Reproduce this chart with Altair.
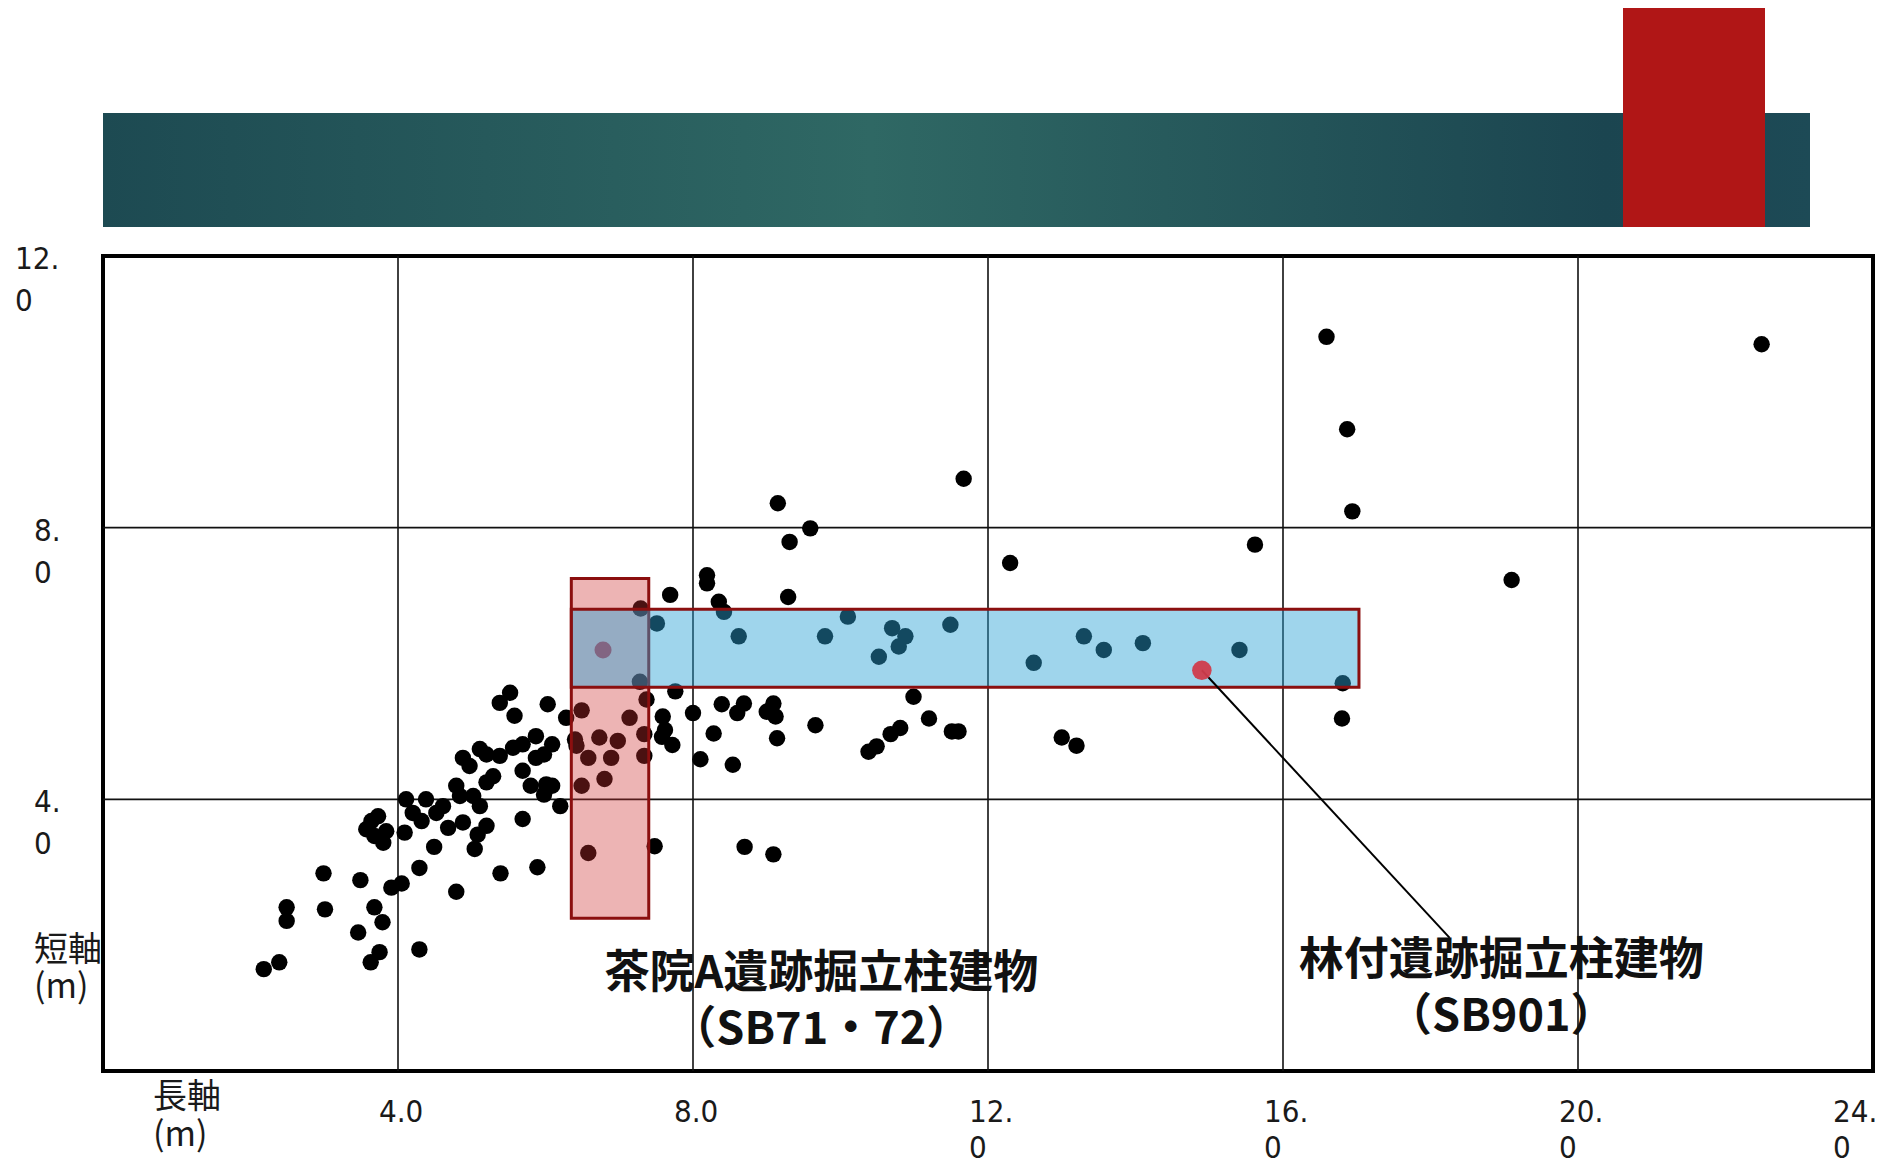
import altair as alt
import pandas as pd

# ---- data (long axis / short axis of pillar buildings, metres) ----
long_axis = [
    2.18, 2.39, 2.49, 2.49, 2.99, 3.01, 3.49, 3.46, 3.68, 3.79, 3.63, 3.75, 3.91, 4.05, 4.29, 4.29,
    4.79, 4.49, 5.39, 5.89, 5.69, 5.04, 3.64, 3.73, 3.57, 3.68, 3.80, 3.84, 4.09, 4.11, 4.20, 4.38,
    4.32, 4.52, 4.61, 4.68, 4.88, 4.79, 4.84, 5.02, 5.11, 5.20, 5.08, 4.88, 4.97, 5.11, 5.20, 5.38,
    5.20, 5.29, 5.56, 5.69, 5.87, 5.87, 5.98, 6.09, 5.69, 5.80, 6.01, 6.09, 5.98, 6.20, 5.38, 5.52,
    5.58, 6.03, 6.28, 6.49, 6.40, 6.42, 6.73, 6.98, 6.58, 6.89, 6.80, 6.49, 7.14, 7.34, 7.34, 7.37,
    6.58, 7.28, 7.48,
    7.29, 7.51, 7.69, 8.19, 8.19, 8.35, 8.42, 8.62, 9.15, 9.59, 9.31, 9.29, 9.79, 10.10, 10.70, 10.88,
    10.79, 10.52, 11.49, 11.67, 7.76, 7.59, 7.62, 7.72, 7.58, 8.00, 8.10, 8.39, 8.69, 8.60, 8.28, 8.54,
    9.09, 9.00, 9.12, 9.14, 9.66, 10.99, 11.20, 10.81, 10.68, 10.49, 10.38, 11.51, 11.60, 8.70, 9.09,
    12.30, 15.62, 16.94, 12.62, 13.30, 13.57, 14.10, 15.41, 16.81, 16.80, 13.00, 13.20,
    16.59, 16.87, 22.49, 19.10,
]
short_axis = [
    1.50, 1.60, 2.41, 2.21, 2.91, 2.38, 2.81, 2.04, 2.41, 2.19, 1.60, 1.75, 2.70, 2.76, 2.99, 1.79,
    2.64, 3.30, 2.91, 3.00, 3.71, 3.27, 3.68, 3.75, 3.56, 3.46, 3.36, 3.53, 3.51, 4.00, 3.80, 4.00,
    3.68, 3.80, 3.90, 3.58, 3.66, 4.20, 4.05, 4.05, 3.90, 3.61, 3.48, 4.61, 4.49, 4.74, 4.66, 4.64,
    4.25, 4.34, 4.76, 4.81, 4.93, 4.61, 4.66, 4.81, 4.42, 4.20, 4.22, 4.20, 4.07, 3.90, 5.42, 5.57,
    5.23, 5.40, 5.20, 5.31, 4.88, 4.79, 4.91, 4.86, 4.61, 4.61, 4.30, 4.20, 5.20, 4.96, 4.64, 5.47,
    3.21, 5.73, 3.31,
    6.81, 6.59, 7.01, 7.30, 7.18, 6.91, 6.76, 6.40, 8.36, 7.99, 7.79, 6.98, 6.40, 6.69, 6.52, 6.40,
    6.25, 6.10, 6.57, 8.72, 5.59, 5.22, 5.02, 4.80, 4.92, 5.27, 4.59, 5.40, 5.41, 5.27, 4.97, 4.51,
    5.41, 5.29, 5.22, 4.90, 5.09, 5.51, 5.19, 5.05, 4.96, 4.78, 4.70, 5.00, 5.00, 3.30, 3.19,
    7.48, 7.75, 8.24, 6.01, 6.40, 6.20, 6.30, 6.20, 5.71, 5.19, 4.91, 4.79,
    10.81, 9.45, 10.70, 7.23,
]

x_ticks = [4, 8, 12, 16, 20, 24]
x_tick_labels = ["4.0", "8.0", "12.\n0", "16.\n0", "20.\n0", "24.\n0"]
y_ticks = [4, 8, 12]
y_tick_labels = ["4.\n0", "8.\n0", "12.\n0"]
grid_x = [4, 8, 12, 16, 20]
grid_y = [4, 8]

# ranges highlighted by the two boxes
chain_box_x = [6.35, 7.40]
chain_box_y = [2.25, 7.25]
hayashi_box_x = [6.35, 17.03]
hayashi_box_y = [5.65, 6.80]

sb71_point = [6.78, 6.20]
sb901_point = [14.90, 5.90]
leader_end = [18.26, 1.96]

annot_text = ["茶院A遺跡掘立柱建物", "（SB71・72）", "林付遺跡掘立柱建物", "（SB901）"]
annot_x = [9.74, 9.74, 18.96, 18.96]
annot_y = [1.43, 0.61, 1.62, 0.80]

# ---- chart ----
W, H = 1770, 815
xs = alt.Scale(domain=[0, 24], nice=False, zero=False)
ys = alt.Scale(domain=[0, 12], nice=False, zero=False)


def X(f):
    return alt.X(f, type="quantitative", scale=xs, axis=None)


def Y(f):
    return alt.Y(f, type="quantitative", scale=ys, axis=None)


one = pd.DataFrame({"k": [0]})
digit_font = "Liberation Sans Narrow, DejaVu Sans Condensed, Liberation Sans, sans-serif"

grid_v = alt.Chart(pd.DataFrame({"v": grid_x})).mark_rule(color="#111", strokeWidth=1.6).encode(x=X("v"))
grid_h = alt.Chart(pd.DataFrame({"v": grid_y})).mark_rule(color="#111", strokeWidth=1.6).encode(y=Y("v"))

pts = pd.DataFrame({"long": long_axis, "short": short_axis})
points = alt.Chart(pts).mark_circle(size=270, color="black", opacity=1).encode(x=X("long"), y=Y("short"))

sb71 = alt.Chart(pd.DataFrame({"x": [sb71_point[0]], "y": [sb71_point[1]]})).mark_circle(
    size=290, color="#c83848", opacity=1).encode(x=X("x"), y=Y("y"))

pink = alt.Chart(pd.DataFrame({"x": [chain_box_x[0]], "x2": [chain_box_x[1]],
                               "y": [chain_box_y[0]], "y2": [chain_box_y[1]]})).mark_rect(
    fill="#cc3030", fillOpacity=0.36, stroke="#8b0f0f", strokeWidth=3).encode(
    x=X("x"), x2="x2", y=Y("y"), y2="y2")

blue = alt.Chart(pd.DataFrame({"x": [hayashi_box_x[0]], "x2": [hayashi_box_x[1]],
                               "y": [hayashi_box_y[0]], "y2": [hayashi_box_y[1]]})).mark_rect(
    fill="#2aa2d4", fillOpacity=0.45, stroke="#8b0f0f", strokeWidth=3).encode(
    x=X("x"), x2="x2", y=Y("y"), y2="y2")

leader = alt.Chart(pd.DataFrame({"x": [sb901_point[0]], "y": [sb901_point[1]],
                                 "x2": [leader_end[0]], "y2": [leader_end[1]]})).mark_rule(
    color="black", strokeWidth=2).encode(x=X("x"), y=Y("y"), x2="x2", y2="y2")

sb901 = alt.Chart(pd.DataFrame({"x": [sb901_point[0]], "y": [sb901_point[1]]})).mark_circle(
    size=380, color="#d03c4c", opacity=0.95).encode(x=X("x"), y=Y("y"))

annots = alt.Chart(pd.DataFrame({"t": annot_text, "x": annot_x, "y": annot_y})).mark_text(
    font="Noto Sans CJK JP", fontSize=45, fontWeight="bold", color="#111",
    align="center", baseline="middle").encode(x=X("x"), y=Y("y"), text="t:N")

# x tick labels (first line centred on the grid line, second line flush left under it;
# the last label is pulled left so it stays inside the slide)
xlab = pd.DataFrame({"v": x_ticks, "t": x_tick_labels})
xlab["edge"] = xlab["v"] == max(x_ticks)
xl_style = dict(font=digit_font, fontSize=31, color="#1a1a1a", align="left", baseline="top",
                lineBreak="\n", lineHeight=36, dy=27)
xl_in = alt.Chart(xlab).transform_filter("!datum.edge").mark_text(dx=-19, **xl_style).encode(
    x=X("v"), y=alt.value(H), text="t:N")
xl_edge = alt.Chart(xlab).transform_filter("datum.edge").mark_text(dx=-40, **xl_style).encode(
    x=X("v"), y=alt.value(H), text="t:N")

# y tick labels: block right-aligned next to the axis, lines flush left inside the block
ylab = pd.DataFrame({"v": y_ticks, "t": y_tick_labels})
ylab["wide"] = [len(s.split("\n")[0]) >= 3 for s in ylab["t"]]
yl_style = dict(font=digit_font, fontSize=31, color="#1a1a1a", align="left", baseline="top",
                lineBreak="\n", lineHeight=42, dy=-11)
yl_wide = alt.Chart(ylab).transform_filter("datum.wide").mark_text(dx=0, **yl_style).encode(
    x=alt.value(-88), y=Y("v"), text="t:N")
yl_narrow = alt.Chart(ylab).transform_filter("!datum.wide").mark_text(dx=19, **yl_style).encode(
    x=alt.value(-88), y=Y("v"), text="t:N")

title_font = "Noto Sans CJK JP"
ytitle = alt.Chart(one).mark_text(font=title_font, fontSize=34, color="#1a1a1a", align="left",
                                  baseline="alphabetic", lineBreak="\n", lineHeight=37).encode(
    x=alt.value(-69), y=alt.value(705), text=alt.value("短軸\n(m)"))
xtitle = alt.Chart(one).mark_text(font=title_font, fontSize=34, color="#1a1a1a", align="left",
                                  baseline="alphabetic", lineBreak="\n", lineHeight=38).encode(
    x=alt.value(50), y=alt.value(852), text=alt.value("長軸\n(m)"))

# slide header bars
teal_grad = alt.LinearGradient(
    gradient="linear",
    stops=[alt.GradientStop(color="#1d4a52", offset=0),
           alt.GradientStop(color="#2f6864", offset=0.45),
           alt.GradientStop(color="#1b4550", offset=0.88),
           alt.GradientStop(color="#1d4a56", offset=1)],
    x1=0, x2=1, y1=0, y2=0)
teal = alt.Chart(one).mark_rect(fill=teal_grad).encode(
    x=alt.value(0), x2=alt.value(1707), y=alt.value(-143), y2=alt.value(-29))
red = alt.Chart(one).mark_rect(fill="#b01616").encode(
    x=alt.value(1520), x2=alt.value(1662), y=alt.value(-250), y2=alt.value(-29))

chart = alt.layer(
    grid_v, grid_h, points, sb71, pink, blue, leader, sb901, annots,
    xl_in, xl_edge, yl_wide, yl_narrow, ytitle, xtitle, teal, red
).properties(
    width=W, height=H,
    padding={"left": 95, "top": 248, "right": 15, "bottom": 100},
    autosize=alt.AutoSizeParams(type="none"),
    background="white",
).configure_view(stroke="black", strokeWidth=4)

chart.save("out.html", embed_options={"renderer": "svg", "actions": False})
